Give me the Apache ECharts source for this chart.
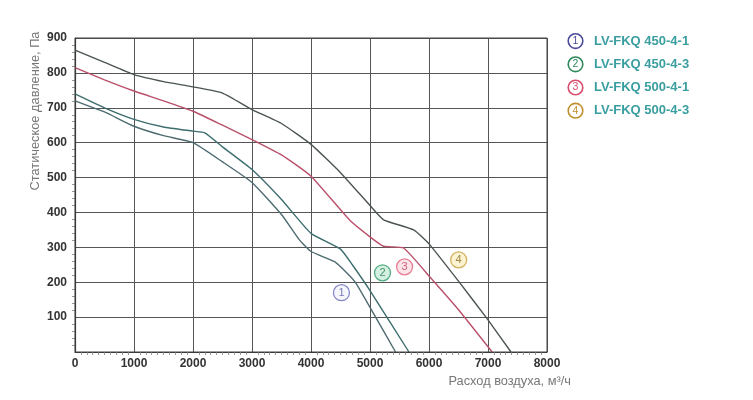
<!DOCTYPE html>
<html><head><meta charset="utf-8">
<script src="https://cdn.jsdelivr.net/npm/echarts@6/dist/echarts.min.js"></script>
<style>html,body{margin:0;padding:0;background:#fff}#c{width:753px;height:400px}</style>
</head><body><div id="c"></div>
<script>
const seriesNames = ['LV-FKQ 450-4-1','LV-FKQ 450-4-3','LV-FKQ 500-4-1','LV-FKQ 500-4-3'];
const curve1 = [[0,720],[500,688],[1000,647],[1500,620],[2000,600],[2500,545],[3000,486],[3500,394],[3800,322],[4000,288],[4400,259],[4600,228],[4750,200],[5000,128],[5433,0]];
const curve2 = [[0,740],[500,700],[1000,667],[1500,645],[2000,633],[2200,628],[2500,588],[3000,523],[3500,437],[4000,340],[4500,295],[4700,250],[5000,176],[5660,0]];
const curve3 = [[0,815],[500,780],[1000,748],[1500,720],[2000,690],[2500,650],[3000,609],[3500,565],[4000,504],[4650,379],[5000,330],[5230,303],[5570,298],[6030,212],[6500,121],[7070,0]];
const curve4 = [[0,865],[500,830],[1000,795],[1500,775],[2000,760],[2500,742],[3000,695],[3500,655],[4000,595],[4500,514],[5000,420],[5230,379],[5740,350],[6000,310],[6500,203],[7000,92],[7390,0]];
const curves = [curve1, curve2, curve3, curve4];
const markerDigits = ['1','2','3','4'];
const markerPos = [[4516,170],[5212,227],[5586,244],[6503,264]];
const xTicks = [0,1000,2000,3000,4000,5000,6000,7000,8000];
const yTicks = [100,200,300,400,500,600,700,800,900];

const lineColors = ['#4e6c70','#3d6d6d','#b9506a','#4c5454'];
const mkBorder = ['#6a6ab8','#2e9a6a','#e0607e','#c8a040'];
const mkFill = ['#f4f4fc','#c8ecd8','#fbdde4','#fbf0c8'];
const mkText = ['#5a5aa8','#2a7a50','#c04060','#8a6a20'];
const legBorder = ['#4a4a98','#2e8a5a','#d8506e','#c09030'];

const chart = echarts.init(document.getElementById('c'), null, {renderer:'canvas'});
const lblFont = 'Liberation Sans, Arial, sans-serif';

const series = curves.map((d,i)=>({
  type:'line', name: seriesNames[i], data: d, smooth: 0.15, showSymbol:false, symbol:'none',
  lineStyle:{color: lineColors[i], width: 1.4}, itemStyle:{color: lineColors[i]}, z:3
}));
markerPos.forEach((p,i)=>{
  series.push({
    type:'scatter', name:'m'+i, data:[p], symbol:'circle', symbolSize:16, z:5,
    itemStyle:{color: mkFill[i], borderColor: mkBorder[i], borderWidth:1.3},
    label:{show:true, position:'inside', formatter: markerDigits[i], color: mkText[i], fontSize:11, fontFamily: lblFont}
  });
});

const rich = {};
for (let i=0;i<4;i++){
  rich['n'+i] = {width:13,height:13,lineHeight:13,borderRadius:8,borderWidth:1.6,borderColor:legBorder[i],color:legBorder[i],align:'center',fontSize:10.5,fontFamily:lblFont,backgroundColor:'#fff'};
}
rich.t = {color:'#3a9ea0', fontWeight:'bold', fontSize:13, fontFamily:lblFont, padding:[0,0,0,12]};

chart.setOption({
  animation:false,
  backgroundColor:'#fff',
  grid:{left:75, top:38, width:472, height:314, containLabel:false},
  legend:{
    data: seriesNames, orient:'vertical', left:559, top:28, itemGap:7, icon:'none', itemWidth:0, itemHeight:14,
    selectedMode:false,
    formatter: name => '{n'+seriesNames.indexOf(name)+'|'+(seriesNames.indexOf(name)+1)+'}{t|'+name+'}',
    textStyle:{rich: rich}
  },
  xAxis:{
    type:'value', min:0, max:8000, interval:1000,
    axisLine:{show:true, lineStyle:{color:'#333', width:1.2}},
    axisTick:{show:false},
    minorTick:{show:true, splitNumber:10, length:3, lineStyle:{color:'#999'}},
    splitLine:{show:true, lineStyle:{color:'#555', width:1}},
    axisLabel:{color:'#333', fontWeight:'bold', fontSize:12, fontFamily:lblFont, margin:6,
      formatter: v => xTicks.indexOf(v)>=0 ? String(v) : ''}
  },
  yAxis:{
    type:'value', min:0, max:900, interval:100,
    axisLine:{show:true, lineStyle:{color:'#333', width:1.2}},
    axisTick:{show:false},
    minorTick:{show:true, splitNumber:5, length:3, lineStyle:{color:'#999'}},
    splitLine:{show:true, lineStyle:{color:'#555', width:1}},
    axisLabel:{color:'#333', fontWeight:'bold', fontSize:12, fontFamily:lblFont, margin:8,
      formatter: v => yTicks.indexOf(v)>=0 ? String(v) : ''}
  },
  graphic:[
    {type:'rect', shape:{x:75,y:38,width:472,height:314}, style:{fill:'none', stroke:'#444', lineWidth:1}, z:10, silent:true},
    {type:'text', x:35, y:111, rotation:Math.PI/2, style:{text:'Статическое давление, Па', fill:'#777', fontSize:12.8, fontFamily:lblFont, align:'center', verticalAlign:'middle'}},
    {type:'text', x:571, y:381, style:{text:'Расход воздуха, м³/ч', fill:'#777', fontSize:12.8, fontFamily:lblFont, align:'right', verticalAlign:'middle'}}
  ],
  series: series
});
</script></body></html>
